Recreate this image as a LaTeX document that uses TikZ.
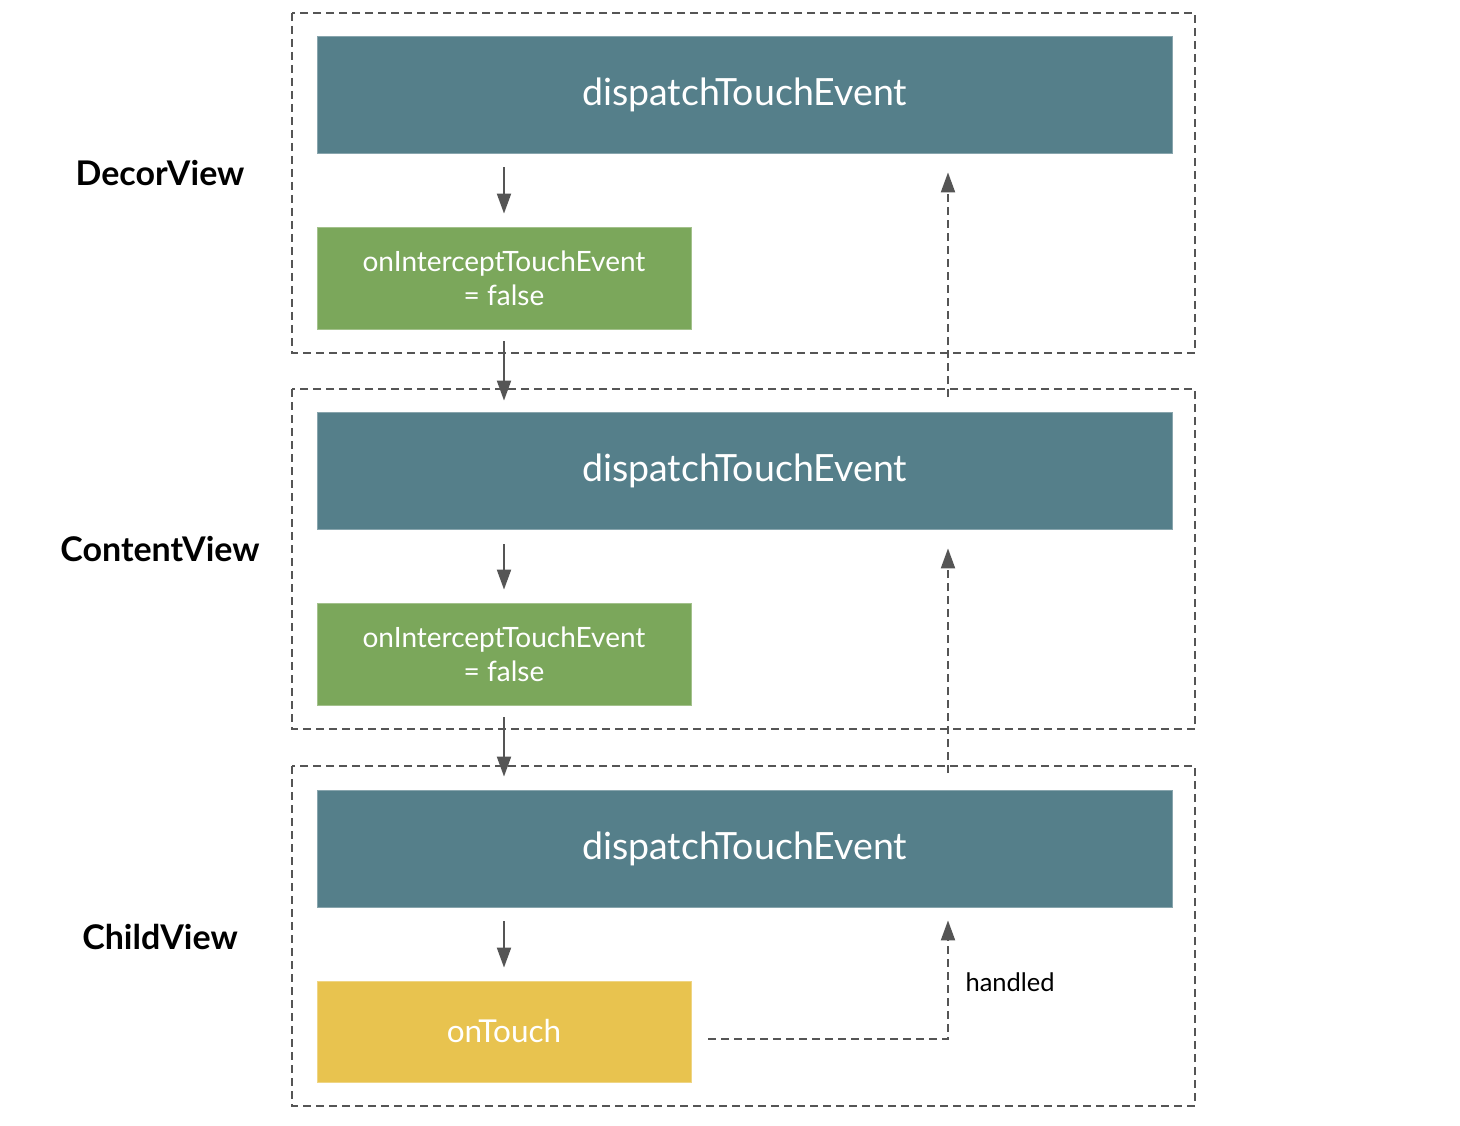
\documentclass[tikz,border=0pt]{standalone}
\usepackage{fontspec}
\setmainfont{Lato}
\usetikzlibrary{arrows.meta}
\definecolor{bluebox}{HTML}{557F8A}
\definecolor{greenbox}{HTML}{7BA75B}
\definecolor{yellowbox}{HTML}{E8C34F}
\definecolor{linegray}{HTML}{555555}
\tikzset{
  frame/.style={draw=linegray, line width=1.6pt, dash pattern=on 8pt off 5pt},
  bluenode/.style={fill=bluebox, draw=bluebox!70!white, line width=0.8pt, minimum width=855pt, minimum height=117pt, inner sep=0pt, text=white, font=\fontsize{37.5}{42}\selectfont},
  greennode/.style={fill=greenbox, draw=greenbox!70!white, line width=0.8pt, minimum width=374pt, minimum height=102pt, inner sep=0pt, text=white, align=center, font=\fontsize{28}{34}\selectfont},
  yellownode/.style={fill=yellowbox, draw=yellowbox!70!white, line width=0.8pt, minimum width=374pt, minimum height=101pt, inner sep=0pt, text=white, font=\fontsize{31.5}{36}\selectfont},
  viewlabel/.style={font=\bfseries\fontsize{34}{40}\selectfont},
  arr/.style={draw=linegray, line width=2pt, -{Triangle[length=20pt,width=14pt]}, color=linegray},
  darr/.style={arr, dash pattern=on 8pt off 5pt},
}
\newcommand{\dte}{\raisebox{-3pt}{dispatchTouchEvent}}
\begin{document}
\begin{tikzpicture}[x=1pt,y=-1pt]
\useasboundingbox (0,0) rectangle (1460,1126);
% frames
\draw[frame] (292,13) rectangle (1195,353);
\draw[frame] (292,389) rectangle (1195,729);
\draw[frame] (292,766) rectangle (1195,1106);
% labels
\node[viewlabel] (l1) at (160,173) {DecorView};
\node[viewlabel] (l2) at (160,549) {ContentView};
\node[viewlabel] (l3) at (160,937) {ChildView};
% blue boxes
\node[bluenode] (d1) at (744.5,94.5) {\dte};
\node[bluenode] (d2) at (744.5,470.5) {\dte};
\node[bluenode] (d3) at (744.5,848.5) {\dte};
% green boxes
\node[greennode] (g1) at (504,278) {onInterceptTouchEvent\\= false};
\node[greennode] (g2) at (504,654) {onInterceptTouchEvent\\= false};
\node[yellownode] (t) at (504,1031.5) {onTouch};
% solid arrows
\draw[arr] ([yshift=-14pt]g1.north |- d1.south) -- ([yshift=13pt]g1.north);
\draw[arr] ([yshift=-12pt]g1.south) -- ([yshift=11pt]g1.south |- d2.north);
\draw[arr] ([yshift=-15pt]g2.north |- d2.south) -- ([yshift=13pt]g2.north);
\draw[arr] ([yshift=-12pt]g2.south) -- ([yshift=13pt]g2.south |- d3.north);
\draw[arr] ([yshift=-14pt]t.north |- d3.south) -- ([yshift=13pt]t.north);
% dashed return arrows
\coordinate (c1) at (948,397);
\coordinate (c2) at (948,773);
\coordinate (c3) at (948,1039);
\draw[darr] (c1) -- ([yshift=-19pt]c1 |- d1.south);
\draw[darr] (c2) -- ([yshift=-19pt]c2 |- d2.south);
\draw[darr] ([xshift=17pt]t.east |- c3) -- (c3) -- ([yshift=-13pt]c3 |- d3.south);
\node[anchor=west, font=\fontsize{25.5}{30}\selectfont] (h) at (962,982) {handled};
\end{tikzpicture}
\end{document}
